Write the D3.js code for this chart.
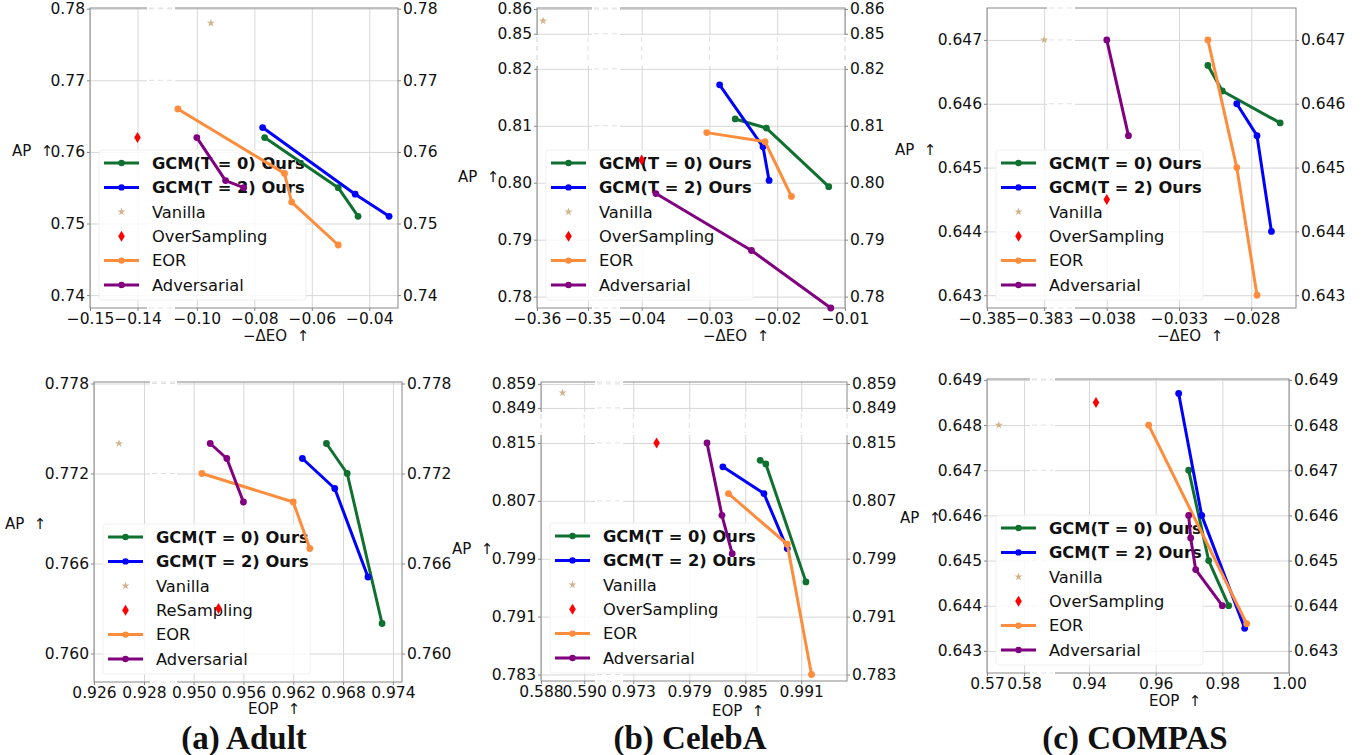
<!DOCTYPE html>
<html lang="en">
<head>
<meta charset="UTF-8">
<title>AP vs fairness trade-off</title>
<style>
  body { margin: 0; background: #fff; }
  svg text { font-family: "DejaVu Sans", sans-serif; fill: #111; }
  .tick text { font-size: 15.5px; }
  .tick line { stroke: #888; }
  .grid line { stroke: #d7d7d7; stroke-width: 1; }
  .gapline { stroke: #e0e0e0; stroke-width: 1; stroke-dasharray: 5,4; }
  .frame { fill: none; stroke: #888; stroke-width: 1; }
  .lbl { font-size: 15px; white-space: pre; }
  .leg text { font-size: 16.3px; }
  .caption { font-family: "Liberation Serif", "Times New Roman", serif; font-weight: bold; font-size: 33px; text-anchor: middle; }
</style>
</head>
<body>
<svg width="1365" height="755"></svg>
<script src="https://d3js.org/d3.v7.min.js"></script>
<script>
// legend labels
const names = ["GCM(T = 0) Ours", "GCM(T = 2) Ours", "Vanilla", "OverSampling", "EOR", "Adversarial"];
const namesAdultEOP = ["GCM(T = 0) Ours", "GCM(T = 2) Ours", "Vanilla", "ReSampling", "EOR", "Adversarial"];

// (a) Adult, -ΔEO vs AP
const adultEO_gcm0 = [[-0.0764, 0.7620], [-0.0508, 0.7550], [-0.0439, 0.7510]];
const adultEO_gcm2 = [[-0.0771, 0.7634], [-0.0449, 0.7541], [-0.0331, 0.7510]];
const adultEO_vanilla = [[-0.0951, 0.7780]];
const adultEO_over = [[-0.1400, 0.7620]];
const adultEO_eor = [[-0.1066, 0.7660], [-0.0695, 0.7570], [-0.0670, 0.7530], [-0.0508, 0.7470]];
const adultEO_adv = [[-0.1000, 0.7620], [-0.0900, 0.7560], [-0.0837, 0.7550]];

// (b) CelebA, -ΔEO vs AP
const celebaEO_gcm0 = [[-0.0262, 0.8112], [-0.0216, 0.8096], [-0.0124, 0.7993]];
const celebaEO_gcm2 = [[-0.0285, 0.8172], [-0.0221, 0.8063], [-0.0212, 0.8004]];
const celebaEO_vanilla = [[-0.3588, 0.8552]];
const celebaEO_over = [[-0.0400, 0.8040]];
const celebaEO_eor = [[-0.0304, 0.8088], [-0.0218, 0.8072], [-0.0179, 0.7976]];
const celebaEO_adv = [[-0.0379, 0.7981], [-0.0238, 0.7881], [-0.0121, 0.7780]];

// (c) COMPAS, -ΔEO vs AP
const compasEO_gcm0 = [[-0.0310, 0.6466], [-0.0300, 0.6462], [-0.0260, 0.6457]];
const compasEO_gcm2 = [[-0.0290, 0.6460], [-0.0276, 0.6455], [-0.0266, 0.6440]];
const compasEO_vanilla = [[-0.3830, 0.6470]];
const compasEO_over = [[-0.0380, 0.6445]];
const compasEO_eor = [[-0.0310, 0.6470], [-0.0290, 0.6450], [-0.0276, 0.6430]];
const compasEO_adv = [[-0.0380, 0.6470], [-0.0365, 0.6455]];

// (a) Adult, EOP vs AP
const adultEOP_gcm0 = [[0.9660, 0.7740], [0.9685, 0.7720], [0.9727, 0.7620]];
const adultEOP_gcm2 = [[0.9631, 0.7730], [0.9670, 0.7710], [0.9710, 0.7651]];
const adultEOP_vanilla = [[0.9270, 0.7740]];
const adultEOP_re = [[0.9530, 0.7630]];
const adultEOP_eor = [[0.9510, 0.7720], [0.9620, 0.7701], [0.9640, 0.7670]];
const adultEOP_adv = [[0.9520, 0.7740], [0.9540, 0.7730], [0.9560, 0.7701]];

// (b) CelebA, EOP vs AP
const celebaEOP_gcm0 = [[0.9866, 0.8126], [0.9872, 0.8121], [0.9915, 0.7958]];
const celebaEOP_gcm2 = [[0.9826, 0.8117], [0.9870, 0.8080], [0.9895, 0.8004]];
const celebaEOP_vanilla = [[0.5890, 0.8553]];
const celebaEOP_over = [[0.9755, 0.8150]];
const celebaEOP_eor = [[0.9832, 0.8080], [0.9895, 0.8010], [0.9921, 0.7830]];
const celebaEOP_adv = [[0.9809, 0.8150], [0.9825, 0.8050], [0.9836, 0.7997]];

// (c) COMPAS, EOP vs AP
const compasEOP_gcm0 = [[0.9699, 0.6470], [0.9759, 0.6450], [0.9819, 0.6440]];
const compasEOP_gcm2 = [[0.9669, 0.6487], [0.9738, 0.6460], [0.9867, 0.6435]];
const compasEOP_vanilla = [[0.5732, 0.6480]];
const compasEOP_over = [[0.9421, 0.6485]];
const compasEOP_eor = [[0.9579, 0.6480], [0.9873, 0.6436]];
const compasEOP_adv = [[0.9699, 0.6460], [0.9705, 0.6455], [0.9720, 0.6448], [0.9800, 0.6440]];

// tick values
const adultEO_xticks = [-0.15, -0.14, -0.10, -0.08, -0.06, -0.04];
const adultEO_yticks = [0.74, 0.75, 0.76, 0.77, 0.78];
const celebaEO_xticks = [-0.36, -0.35, -0.04, -0.03, -0.02, -0.01];
const celebaEO_yticks = [0.78, 0.79, 0.80, 0.81, 0.82, 0.85, 0.86];
const compasEO_xticks = [-0.385, -0.383, -0.038, -0.033, -0.028];
const compasEO_yticks = [0.643, 0.644, 0.645, 0.646, 0.647];
const adultEOP_xticks = [0.926, 0.928, 0.950, 0.956, 0.962, 0.968, 0.974];
const adultEOP_yticks = [0.760, 0.766, 0.772, 0.778];
const celebaEOP_xticks = [0.588, 0.590, 0.973, 0.979, 0.985, 0.991];
const celebaEOP_yticks = [0.783, 0.791, 0.799, 0.807, 0.815, 0.849, 0.859];
const compasEOP_xticks = [0.57, 0.58, 0.94, 0.96, 0.98, 1.00];
const compasEOP_yticks = [0.643, 0.644, 0.645, 0.646, 0.647, 0.648, 0.649];

const captions = ["(a) Adult", "(b) CelebA", "(c) COMPAS"];

const colors = { gcm0: "#0f7030", gcm2: "#0000ff", vanilla: "#d2b48c", over: "#ff0000", eor: "#fd8d3c", adv: "#800080" };

// layout: frame box, broken-axis domains and the pixel gaps between pieces
const panels = [
  { L: 90, R: 398, T: 8, B: 308,
    xd: [-0.15, -0.138, -0.1076, -0.030], xr: [90, 147, 175, 398],
    yd: [0.7382, 0.7801], yr: [308, 8],
    xticks: adultEO_xticks, yticks: adultEO_yticks, xf: ".2f", yf: ".2f",
    xlabel: "\u2212\u0394EO  \u2191", xl: [243, 341], yl: [12, 156], names: names,
    s: [adultEO_gcm0, adultEO_gcm2, adultEO_vanilla, adultEO_over, adultEO_eor, adultEO_adv] },
  { L: 537, R: 845, T: 8, B: 308,
    xd: [-0.36, -0.3492, -0.0432, -0.01], xr: [537, 592, 620, 845],
    yd: [0.778, 0.8205, 0.8495, 0.8604], yr: [308, 66, 35, 8],
    xticks: celebaEO_xticks, yticks: celebaEO_yticks, xf: ".2f", yf: ".2f",
    xlabel: "\u2212\u0394EO  \u2191", xl: [703, 341], yl: [458, 182], names: names,
    s: [celebaEO_gcm0, celebaEO_gcm2, celebaEO_vanilla, celebaEO_over, celebaEO_eor, celebaEO_adv] },
  { L: 987, R: 1296, T: 8, B: 308,
    xd: [-0.385, -0.3829, -0.0402, -0.0249], xr: [987, 1047, 1075, 1296],
    yd: [0.6428, 0.6475], yr: [308, 8],
    xticks: compasEO_xticks, yticks: compasEO_yticks, xf: ".3f", yf: ".3f",
    xlabel: "\u2212\u0394EO  \u2191", xl: [1157, 341], yl: [895, 155], names: names,
    s: [compasEO_gcm0, compasEO_gcm2, compasEO_vanilla, compasEO_over, compasEO_eor, compasEO_adv] },
  { L: 94, R: 402, T: 382, B: 682,
    xd: [0.926, 0.92824, 0.948, 0.9751], xr: [94, 150, 177, 402],
    yd: [0.7581, 0.7781], yr: [682, 382],
    xticks: adultEOP_xticks, yticks: adultEOP_yticks, xf: ".3f", yf: ".3f",
    xlabel: "EOP  \u2191", xl: [248, 714], yl: [5, 529], names: namesAdultEOP, cap: 0,
    s: [adultEOP_gcm0, adultEOP_gcm2, adultEOP_vanilla, adultEOP_re, adultEOP_eor, adultEOP_adv] },
  { L: 541, R: 847, T: 382, B: 681,
    xd: [0.588, 0.5905, 0.9719, 0.9959], xr: [541, 595, 623, 847],
    yd: [0.7821, 0.8161, 0.8473, 0.8598], yr: [681, 435, 412, 382],
    xticks: celebaEOP_xticks, yticks: celebaEOP_yticks, xf: ".3f", yf: ".3f",
    xlabel: "EOP  \u2191", xl: [712, 715.5], yl: [452, 554], names: names, cap: 1,
    s: [celebaEOP_gcm0, celebaEOP_gcm2, celebaEOP_vanilla, celebaEOP_over, celebaEOP_eor, celebaEOP_adv] },
  { L: 987, R: 1289, T: 379, B: 673,
    xd: [0.57, 0.5816, 0.9298, 1.0], xr: [987, 1030, 1055, 1289],
    yd: [0.64251, 0.64902], yr: [673, 379],
    xticks: compasEOP_xticks, yticks: compasEOP_yticks, xf: ".2f", yf: ".3f",
    xlabel: "EOP  \u2191", xl: [1149, 706], yl: [900, 523], names: names, cap: 2,
    s: [compasEOP_gcm0, compasEOP_gcm2, compasEOP_vanilla, compasEOP_over, compasEOP_eor, compasEOP_adv] }
];
const captionX = [244, 690, 1135];

const svg = d3.select("svg");
const keys = ["gcm0", "gcm2", "vanilla", "over", "eor", "adv"];
const star = d3.symbol().type(d3.symbolStar).size(20);
const diamond = "M0,-5.5L3.3,0L0,5.5L-3.3,0Z";

panels.forEach(p => {
    const g = svg.append("g");
    const x = d3.scaleLinear().domain(p.xd).range(p.xr);
    const y = d3.scaleLinear().domain(p.yd).range(p.yr);
    const W = p.R - p.L, H = p.B - p.T;

    // grid
    g.append("g").attr("class", "grid").attr("transform", `translate(0,${p.B})`)
        .call(d3.axisBottom(x).tickValues(p.xticks).tickSize(-H).tickFormat(""))
        .call(s => s.select(".domain").remove());
    g.append("g").attr("class", "grid").attr("transform", `translate(${p.L},0)`)
        .call(d3.axisLeft(y).tickValues(p.yticks).tickSize(-W).tickFormat(""))
        .call(s => s.select(".domain").remove());

    g.append("rect").attr("class", "frame")
        .attr("x", p.L).attr("y", p.T).attr("width", W).attr("height", H);

    // x break
    const gx0 = p.xr[1], gx1 = p.xr[2];
    g.append("rect").attr("x", gx0).attr("y", p.T - 1).attr("width", gx1 - gx0).attr("height", H + 2).attr("fill", "#fff");
    g.selectAll(null).data(p.yticks.map(v => y(v)).concat([p.T, p.B])).join("line")
        .attr("class", "gapline").attr("x1", gx0 + 2).attr("x2", gx1 - 2).attr("y1", d => d).attr("y2", d => d);

    // y break
    if (p.yr.length === 4) {
        const gy0 = p.yr[2], gy1 = p.yr[1];
        g.append("rect").attr("x", p.L - 1).attr("y", gy0).attr("width", W + 2).attr("height", gy1 - gy0).attr("fill", "#fff");
        g.selectAll(null).data(p.xticks.map(v => x(v)).concat([p.L, p.R])).join("line")
            .attr("class", "gapline").attr("x1", d => d).attr("x2", d => d).attr("y1", gy0 + 2).attr("y2", gy1 - 2);
    }

    // ticks and labels
    const clean = s => s.select(".domain").remove();
    g.append("g").attr("transform", `translate(0,${p.B})`)
        .call(d3.axisBottom(x).tickValues(p.xticks).tickFormat(d3.format(p.xf)).tickSize(3).tickPadding(2)).call(clean);
    g.append("g").attr("transform", `translate(${p.L},0)`)
        .call(d3.axisLeft(y).tickValues(p.yticks).tickFormat(d3.format(p.yf)).tickSize(3).tickPadding(2)).call(clean);
    g.append("g").attr("transform", `translate(${p.R},0)`)
        .call(d3.axisRight(y).tickValues(p.yticks).tickFormat(d3.format(p.yf)).tickSize(3).tickPadding(2)).call(clean);

    g.append("text").attr("class", "lbl").attr("x", p.xl[0]).attr("y", p.xl[1]).text(p.xlabel);
    g.append("text").attr("class", "lbl").attr("x", p.yl[0]).attr("y", p.yl[1]).text("AP  \u2191");

    // legend
    const rowY = i => p.B - 23 - (5 - i) * 24.4;
    const lg = g.append("g").attr("class", "leg");
    lg.append("rect").attr("x", p.L + 9).attr("y", rowY(0) - 13).attr("width", 207)
        .attr("height", rowY(5) - rowY(0) + 28).attr("rx", 3)
        .attr("fill", "#fff").attr("fill-opacity", 0.8).attr("stroke", "#f0f0f0");
    keys.forEach((k, i) => {
        const cy = rowY(i), cx = p.L + 31.5;
        if (k === "vanilla") {
            lg.append("path").attr("d", star).attr("transform", `translate(${cx},${cy})`).attr("fill", colors[k]);
        } else if (k === "over") {
            lg.append("path").attr("d", diamond).attr("transform", `translate(${cx},${cy})`).attr("fill", colors[k]);
        } else {
            lg.append("line").attr("x1", p.L + 14).attr("x2", p.L + 49).attr("y1", cy).attr("y2", cy)
                .attr("stroke", colors[k]).attr("stroke-width", 3);
            lg.append("circle").attr("cx", cx).attr("cy", cy).attr("r", 3.2).attr("fill", colors[k]);
        }
        lg.append("text").attr("x", p.L + 62).attr("y", cy).attr("dy", "0.36em")
            .attr("font-weight", i < 2 ? "bold" : null).text(p.names[i]);
    });

    // data
    const line = d3.line().x(d => x(d[0])).y(d => y(d[1]));
    keys.forEach((k, i) => {
        const data = p.s[i];
        if (k === "vanilla") {
            g.selectAll(null).data(data).join("path").attr("d", star)
                .attr("transform", d => `translate(${x(d[0])},${y(d[1])})`).attr("fill", colors[k]);
        } else if (k === "over") {
            g.selectAll(null).data(data).join("path").attr("d", diamond)
                .attr("transform", d => `translate(${x(d[0])},${y(d[1])})`).attr("fill", colors[k]);
        } else {
            g.append("path").datum(data).attr("d", line).attr("fill", "none")
                .attr("stroke", colors[k]).attr("stroke-width", 3).attr("stroke-linejoin", "round");
            g.selectAll(null).data(data).join("circle")
                .attr("cx", d => x(d[0])).attr("cy", d => y(d[1])).attr("r", 3.4).attr("fill", colors[k]);
        }
    });

    if (p.cap !== undefined) {
        svg.append("text").attr("class", "caption").attr("x", captionX[p.cap]).attr("y", 749).text(captions[p.cap]);
    }
});
</script>
</body>
</html>
